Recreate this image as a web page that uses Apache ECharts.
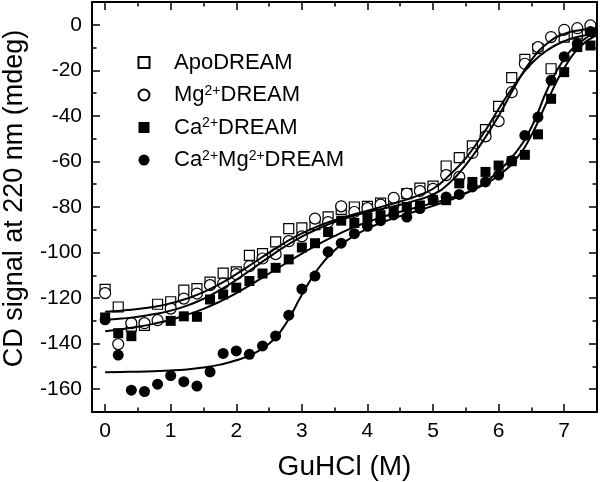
<!DOCTYPE html>
<html>
<head>
<meta charset="utf-8">
<script src="https://cdn.jsdelivr.net/npm/echarts@6/dist/echarts.min.js"></script>
<style>html,body{margin:0;padding:0;background:#fff}#c{width:600px;height:482px}</style>
</head>
<body>
<div id="c"></div>
<script>
// ---- data ----
const seriesNames = ['ApoDREAM', 'Mg2+DREAM', 'Ca2+DREAM', 'Ca2+Mg2+DREAM'];

const apoX = [0, 0.2, 0.4, 0.6, 0.8, 1.0, 1.2, 1.4, 1.6, 1.8, 2.0, 2.2, 2.4, 2.6, 2.8, 3.0, 3.2, 3.4, 3.6, 3.8, 4.0, 4.2, 4.4, 4.6, 4.8, 5.0, 5.2, 5.4, 5.6, 5.8, 6.0, 6.2, 6.4, 6.6, 6.8, 7.0, 7.2, 7.4];
const apoY = [-116.2, -123.9, -132.3, -132, -122.7, -121.6, -116.5, -115.8, -113, -109, -108.5, -101.2, -100.5, -95.3, -89.5, -89.2, -87.7, -84.3, -81, -80, -79.7, -78.3, -77.8, -74.1, -71.7, -70.8, -62, -58.3, -53.2, -46, -35.8, -23.2, -15.2, -10.5, -19.3, -5.4, -4, -1.5];

const mgX = [0, 0.2, 0.4, 0.6, 0.8, 1.0, 1.2, 1.4, 1.6, 1.8, 2.0, 2.2, 2.4, 2.6, 2.8, 3.0, 3.2, 3.4, 3.6, 3.8, 4.0, 4.2, 4.4, 4.6, 4.8, 5.0, 5.2, 5.4, 5.6, 5.8, 6.0, 6.2, 6.4, 6.6, 6.8, 7.0, 7.2, 7.4];
const mgY = [-117.8, -140.2, -131, -131, -129.7, -124.6, -120.2, -118, -114.3, -113.6, -109.5, -106, -102.6, -100.7, -95, -92.9, -85.1, -86.6, -79.7, -82.2, -80.5, -79, -76, -74.1, -73, -72, -66, -66.8, -56.3, -49, -42.3, -29.6, -17.1, -9.8, -5.4, -2.2, -1.5, -0.3];

const caX = [0, 0.2, 0.4, 1.0, 1.2, 1.4, 1.6, 1.8, 2.0, 2.2, 2.4, 2.6, 2.8, 3.0, 3.2, 3.4, 3.6, 3.8, 4.0, 4.2, 4.4, 4.6, 4.8, 5.0, 5.2, 5.4, 5.6, 5.8, 6.0, 6.2, 6.4, 6.6, 6.8, 7.0, 7.2, 7.4];
const caY = [-128.5, -135.4, -136.7, -130, -128, -128.2, -120.6, -118.4, -115.4, -112.5, -109.2, -106.7, -103, -97.8, -95.9, -91, -86, -87, -84.7, -83.6, -82.2, -80, -79.3, -77, -77, -69.6, -69, -64.6, -61.8, -59.9, -57.1, -48.1, -32.5, -20.8, -9.8, -9.1];

const camgX = [0, 0.2, 0.4, 0.6, 0.8, 1.0, 1.2, 1.4, 1.6, 1.8, 2.0, 2.2, 2.4, 2.6, 2.8, 3.0, 3.2, 3.4, 3.6, 3.8, 4.0, 4.2, 4.4, 4.6, 4.8, 5.0, 5.2, 5.4, 5.6, 5.8, 6.0, 6.2, 6.4, 6.6, 6.8, 7.0, 7.2, 7.4];
const camgY = [-129.5, -145, -160.4, -161, -157.8, -154, -156.7, -158.6, -152.4, -144.3, -143.2, -144.7, -141, -136.6, -127.5, -116, -110.3, -99.7, -95.9, -91.7, -88.5, -86, -83.5, -84.4, -80.7, -76.5, -75.6, -74.5, -71.2, -69, -66, -59.7, -48.6, -40.5, -24.4, -14, -8.3, -3];

// fitted curves, every 0.25 M
const fitX = [0, 0.25, 0.5, 0.75, 1, 1.25, 1.5, 1.75, 2, 2.25, 2.5, 2.75, 3, 3.25, 3.5, 3.75, 4, 4.25, 4.5, 4.75, 5, 5.25, 5.5, 5.75, 6, 6.25, 6.5, 6.75, 7, 7.25, 7.5];
const fitApoY = [-126, -125.5, -124.8, -123.8, -122.3, -120.2, -117.4, -113.8, -109.5, -104.8, -100, -95.5, -91.6, -88.4, -85.8, -83.6, -81.6, -79.6, -77.6, -75.2, -72, -66, -58.5, -48.5, -37, -26, -17, -11, -7.2, -5, -3.8];
const fitMgY = [-129.5, -129, -128.2, -127, -125.5, -123.3, -120.3, -116.5, -112, -107, -102, -97.2, -93, -89.5, -86.6, -84.2, -82.2, -80.6, -79, -77, -74.5, -69.5, -61.5, -51.5, -40, -27, -15.5, -8, -4, -2.3, -1.5];
const fitCaY = [-134.5, -133.7, -132.6, -131.2, -129.5, -127.3, -124.7, -121.5, -117.8, -113.6, -109.2, -104.8, -100.5, -96.4, -92.7, -89.4, -86.6, -84.2, -82.1, -80.2, -78.3, -76.2, -73.8, -70.6, -66.2, -59.5, -48.5, -33, -19, -9.5, -4.5];
const fitCamgY = [-152.5, -152.4, -152.3, -152.1, -151.8, -151.3, -150.5, -149.2, -147.3, -144.5, -140, -131.5, -118.5, -107, -99, -93.5, -89.5, -86.5, -84, -81.8, -79.5, -77, -74, -70, -64.3, -56.5, -45, -28, -15, -7.5, -3];

// ticks
const xTicks = [0, 1, 2, 3, 4, 5, 6, 7];
const xMinorTicks = [0.5, 1.5, 2.5, 3.5, 4.5, 5.5, 6.5];
const yTicks = [-160, -140, -120, -100, -80, -60, -40, -20, 0];
const yMinorTicks = [-150, -130, -110, -90, -70, -50, -30, -10];

// ---- chart ----
const zip = (xs, ys) => xs.map((x, i) => [x, ys[i]]);
const FONT = 'Liberation Sans, Arial, sans-serif';
const X_MIN = -0.2, X_MAX = 7.5, Y_MIN = -170, Y_MAX = 10;

function xAx(pos, values, len, line, labels) {
  return {
    type: 'value', min: X_MIN, max: X_MAX, position: pos,
    axisLine: { show: line, onZero: false, lineStyle: { color: '#000', width: 2 } },
    axisTick: { show: true, inside: true, length: len, customValues: values, lineStyle: { color: '#000', width: 1.5 } },
    axisLabel: labels ? { show: true, customValues: values, fontSize: 21, color: '#000', fontFamily: FONT, margin: 9 } : { show: false },
    splitLine: { show: false }
  };
}
function yAx(pos, values, len, line, labels) {
  return {
    type: 'value', min: Y_MIN, max: Y_MAX, position: pos,
    axisLine: { show: line, onZero: false, lineStyle: { color: '#000', width: 2 } },
    axisTick: { show: true, inside: true, length: len, customValues: values, lineStyle: { color: '#000', width: 1.5 } },
    axisLabel: labels ? { show: true, customValues: values, fontSize: 21, color: '#000', fontFamily: FONT, margin: 10 } : { show: false },
    splitLine: { show: false }
  };
}

const xAxes = [
  xAx('bottom', xTicks, 8, true, true),
  xAx('bottom', xMinorTicks, 4.5, false, false),
  xAx('top', xTicks, 8, true, false),
  xAx('top', xMinorTicks, 4.5, false, false)
];
Object.assign(xAxes[0], {
  name: 'GuHCl (M)', nameLocation: 'middle', nameGap: 41,
  nameTextStyle: { fontSize: 28, color: '#000', fontFamily: FONT }
});
const yAxes = [
  yAx('left', yTicks, 8, true, true),
  yAx('left', yMinorTicks, 4.5, false, false),
  yAx('right', yTicks, 8, true, false),
  yAx('right', yMinorTicks, 4.5, false, false)
];
Object.assign(yAxes[0], {
  name: 'CD signal at 220 nm (mdeg)', nameLocation: 'middle', nameGap: 64,
  nameTextStyle: { fontSize: 27, color: '#000', fontFamily: FONT, padding: [0, 0, 0, 17] }
});

const openStyle = { color: '#fff', borderColor: '#000', borderWidth: 1.2, opacity: 1 };
const fillStyle = { color: '#000', borderColor: '#000', borderWidth: 0, opacity: 1 };

function scatter(name, xs, ys, symbol, size, style, z) {
  return { type: 'scatter', name, data: zip(xs, ys), symbol, symbolSize: size, itemStyle: style, z, xAxisIndex: 0, yAxisIndex: 0, emphasis: { disabled: true } };
}
function fit(xs, ys) {
  return {
    type: 'line', data: zip(xs, ys), showSymbol: false, symbol: 'none', smooth: 0.5,
    lineStyle: { color: '#000', width: 2 }, z: 5, xAxisIndex: 0, yAxisIndex: 0, silent: true, emphasis: { disabled: true }
  };
}

const option = {
  animation: false,
  backgroundColor: '#fff',
  grid: { left: 92, top: 2, width: 505, height: 410, containLabel: false, outerBoundsMode: 'none' },
  xAxis: xAxes,
  yAxis: yAxes,
  legend: {
    data: seriesNames, orient: 'vertical', left: 137.5, top: 51.5, padding: 0,
    itemWidth: 11, itemHeight: 11, itemGap: 10.5,
    selectedMode: false,
    formatter: n => n.replace(/2\+/g, '{s|2+}'),
    textStyle: {
      fontSize: 22, color: '#000', fontFamily: FONT, lineHeight: 22, padding: [0, 0, 0, 19.5],
      rich: { s: { fontSize: 14, fontFamily: FONT, color: '#000', lineHeight: 10, verticalAlign: 'top' } }
    }
  },
  series: [
    scatter(seriesNames[0], apoX, apoY, 'rect', 10, openStyle, 2),
    scatter(seriesNames[1], mgX, mgY, 'circle', 11, openStyle, 2),
    scatter(seriesNames[2], caX, caY, 'rect', 10, fillStyle, 3),
    scatter(seriesNames[3], camgX, camgY, 'circle', 11, fillStyle, 3),
    fit(fitX, fitApoY),
    fit(fitX, fitMgY),
    fit(fitX, fitCaY),
    fit(fitX, fitCamgY)
  ]
};
const chart = echarts.init(document.getElementById('c'), null, { renderer: 'canvas' });
chart.setOption(option);
</script>
</body>
</html>
